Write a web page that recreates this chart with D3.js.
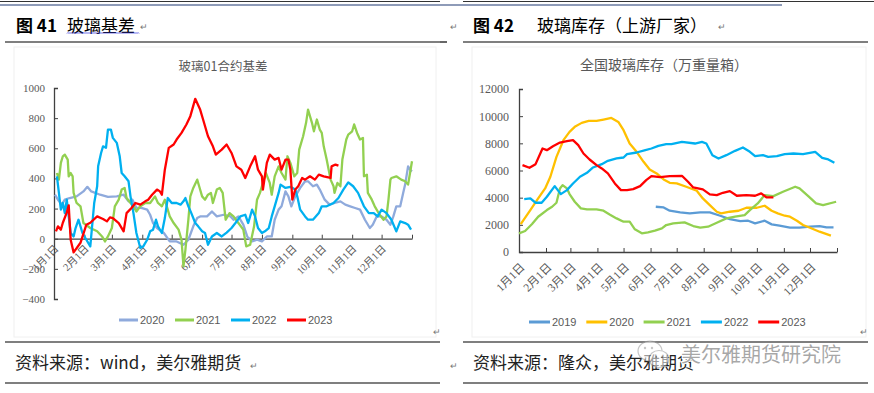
<!DOCTYPE html>
<html>
<head>
<meta charset="utf-8">
<script src="https://cdn.jsdelivr.net/npm/d3@7"></script>
<style>
  body { margin: 0; background: #fff; }
  svg { display: block; }
</style>
</head>
<body>
<div id="page"></div>
<script>
// shared month axis (day of year)
const monthDays = [0, 31, 59, 90, 120, 151, 181, 212, 243, 273, 304, 334, 365];
const monthLabels = ["1月1日", "2月1日", "3月1日", "4月1日", "5月1日", "6月1日",
  "7月1日", "8月1日", "9月1日", "10月1日", "11月1日", "12月1日"];

// ---- 图41 玻璃01合约基差 ----
const basisTicks = [-400, -200, 0, 200, 400, 600, 800, 1000];
const basisYears = ["2020", "2021", "2022", "2023"];
const basisColors = ["#8faadc", "#92d050", "#00b0f0", "#ff0000"];

const basis2020 = [[1,292],[4,259],[8,226],[11,259],[16,270],[23,281],[30,314],[34,344],[38,314],[47,292],
  [55,277],[64,281],[71,292],[76,248],[80,259],[84,204],[89,204],[95,193],[98,159],[101,104],[105,71],
  [112,38],[118,-18],[125,-18],[132,-40],[137,-7],[142,82],[146,137],[149,148],[156,148],[161,181],
  [166,148],[173,159],[180,148],[183,126],[188,148],[193,93],[197,15],[202,-18],[207,-7],[212,-18],
  [217,15],[222,15],[225,126],[229,193],[232,215],[236,314],[239,281],[242,215],[246,281],[251,337],
  [256,381],[259,381],[264,348],[268,359],[271,326],[276,259],[281,226],[286,237],[292,248],[297,226],
  [302,215],[307,204],[312,193],[317,126],[322,71],[325,93],[329,148],[334,148],[339,126],[343,93],
  [346,148],[349,215],[353,215],[356,304],[358,359],[361,480],[363,458],[365,447]];

const basis2021 = [[3,436],[5,392],[7,503],[9,547],[11,558],[14,525],[15,414],[17,436],[19,414],[20,304],
  [23,237],[27,215],[30,104],[37,71],[44,49],[49,15],[52,-18],[55,15],[59,71],[62,215],[66,259],[69,326],
  [72,337],[74,270],[78,237],[81,215],[84,181],[88,215],[93,237],[98,237],[103,281],[106,237],[110,215],
  [113,259],[115,215],[118,148],[122,104],[127,60],[130,-7],[132,-184],[134,-73],[137,126],[139,281],
  [142,337],[146,392],[148,348],[151,281],[154,259],[157,292],[160,304],[162,237],[166,326],[169,337],
  [172,304],[175,126],[179,170],[183,148],[188,104],[193,60],[196,-51],[200,-40],[204,82],[207,259],
  [210,304],[213,370],[216,436],[220,370],[222,292],[225,414],[229,480],[232,436],[236,392],[238,547],
  [241,503],[245,414],[248,436],[250,591],[254,680],[257,769],[259,857],[263,769],[265,713],[268,791],
  [271,724],[273,702],[275,613],[278,525],[282,392],[285,348],[286,304],[289,370],[292,348],[294,525],
  [298,658],[300,691],[304,713],[306,758],[309,702],[312,658],[315,669],[316,414],[319,425],[320,304],
  [324,259],[327,215],[332,159],[336,126],[339,148],[341,259],[343,392],[344,403],[349,414],[354,392],
  [358,381],[361,359],[363,436],[365,514]];

const basis2022 = [[3,414],[5,304],[7,193],[9,237],[11,170],[13,259],[15,148],[17,38],[20,15],[22,71],
  [25,126],[27,82],[29,38],[33,-7],[37,-51],[41,237],[44,348],[45,480],[48,569],[50,613],[53,603],
  [55,724],[58,724],[60,669],[64,636],[67,547],[69,436],[72,414],[76,381],[78,281],[81,170],[84,38],
  [88,-62],[91,-51],[95,-7],[98,49],[101,60],[104,126],[106,82],[110,38],[113,137],[116,270],[120,237],
  [125,237],[129,226],[132,248],[134,270],[137,215],[140,170],[144,104],[147,82],[151,49],[154,38],
  [157,-40],[161,15],[166,38],[171,15],[176,40],[181,71],[185,104],[190,148],[195,159],[198,104],
  [202,193],[205,148],[208,71],[212,38],[215,49],[219,71],[222,148],[225,215],[229,304],[231,359],
  [236,337],[241,344],[246,326],[248,281],[251,193],[256,148],[259,126],[264,126],[270,170],[273,215],
  [278,215],[285,237],[290,270],[295,326],[300,374],[305,348],[310,304],[316,215],[321,170],[326,170],
  [330,148],[334,193],[339,170],[344,126],[349,49],[353,115],[358,104],[361,93],[364,60]];

const basis2023 = [[2,49],[4,82],[7,60],[9,106],[13,173],[15,221],[17,-7],[20,-91],[27,-27],[33,93],
  [37,106],[44,148],[50,131],[54,115],[57,142],[60,137],[66,104],[71,49],[74,170],[79,204],[83,237],
  [88,226],[93,248],[96,259],[100,292],[105,326],[108,314],[110,292],[113,458],[117,603],[122,625],
  [125,658],[130,702],[135,758],[139,813],[144,928],[149,857],[152,791],[157,680],[162,613],[165,558],
  [171,591],[176,625],[181,569],[186,480],[191,458],[195,403],[200,480],[205,547],[208,458],[212,414],
  [213,326],[217,503],[220,558],[225,525],[229,536],[232,458],[236,525],[239,525],[241,458],[243,259],
  [246,326],[249,348],[253,403],[256,392],[261,414],[266,392],[270,425],[275,414],[282,403],[283,480],
  [287,492],[290,485]];

// ---- 图42 全国玻璃库存（万重量箱）----
const stockTicks = [0, 2000, 4000, 6000, 8000, 10000, 12000];
const stockYears = ["2019", "2020", "2021", "2022", "2023"];
const stockColors = ["#5b9bd5", "#ffc000", "#92d050", "#00b0f0", "#ff0000"];

const stock2019 = [[157,3332],[166,3283],[173,3038],[185,2915],[196,2842],[208,2915],[219,2915],
  [231,2670],[242,2426],[254,2279],[263,2303],[271,2107],[282,2303],[290,2034],[299,1935],[311,1788],
  [322,1788],[334,1862],[345,1911],[353,1813],[361,1813]];

const stock2020 = [[2,2058],[13,3087],[22,3945],[30,4680],[36,5537],[43,7007],[51,8232],[58,8845],
  [64,9212],[72,9506],[80,9653],[89,9653],[97,9751],[106,9873],[114,9579],[120,8967],[127,7987],
  [135,7374],[143,6640],[150,6077],[158,5782],[166,5340],[173,5095],[181,5046],[192,4802],[204,4508],
  [211,3945],[219,3455],[227,2964],[232,2842],[242,2964],[252,3038],[261,3258],[273,3258],[282,3405],
  [290,3038],[297,2842],[305,2670],[311,2597],[319,2303],[326,1985],[334,1788],[345,1494],[358,1200]];

const stock2021 = [[0,1372],[7,1543],[15,2058],[22,2597],[32,3087],[38,3332],[43,3626],[47,4680],
  [50,4925],[55,4680],[58,4263],[64,3700],[71,3210],[78,3136],[89,3136],[97,3038],[104,2768],[112,2475],
  [120,2229],[127,2229],[133,1666],[141,1372],[148,1445],[156,1568],[164,1739],[169,1985],[177,2107],
  [190,2181],[200,1911],[208,1788],[217,1862],[227,2156],[238,2475],[248,2597],[259,2720],[265,3087],
  [274,3577],[282,4190],[292,4116],[303,4435],[317,4802],[322,4680],[332,4116],[341,3577],[349,3455],
  [364,3700]];

const stock2022 = [[6,3896],[13,3945],[19,3626],[26,3626],[32,4067],[41,4851],[48,4263],[55,4557],
  [62,5046],[70,5537],[78,5831],[85,6223],[95,6468],[102,6713],[112,6885],[120,6958],[124,7203],
  [135,7325],[145,7497],[152,7619],[160,7815],[169,7938],[175,7938],[187,8109],[202,7987],[210,8109],
  [215,7987],[222,7129],[229,6885],[238,7129],[248,7448],[257,7693],[265,7374],[271,7056],[280,7129],
  [286,7007],[296,7056],[305,7203],[315,7252],[326,7203],[340,7374],[348,6934],[355,6811],[362,6566]];

const stock2023 = [[4,6395],[12,6199],[19,6468],[27,7619],[32,7497],[39,7791],[47,8060],[55,8159],
  [62,8232],[68,7865],[74,7252],[81,6811],[89,6395],[95,6150],[102,5782],[110,5046],[117,4557],
  [124,4557],[131,4630],[139,4851],[146,5292],[152,5586],[162,5512],[173,5586],[187,5611],[194,5170],
  [200,4753],[211,4606],[219,4239],[227,4190],[234,4361],[242,4484],[250,4141],[261,4190],[271,4141],
  [278,4312],[284,4018],[292,4018]];

const svg = d3.select("#page").append("svg")
  .attr("width", 874)
  .attr("height", 393);

const cjk = "'Noto Sans CJK SC', sans-serif";
const numFont = "'Liberation Serif', 'Times New Roman', 'Noto Sans CJK SC', serif";
const grey = "#595959";

// page rules
function rule(x1, x2, y, color, w) {
  svg.append("line").attr("x1", x1).attr("x2", x2).attr("y1", y).attr("y2", y)
    .attr("stroke", color).attr("stroke-width", w);
}
rule(0, 440, 1.5, "#333", 1);
rule(463, 874, 1.5, "#333", 1);
rule(0, 782, 5, "#8e9bb8", 2);
[42, 342, 383].forEach(y => { rule(5, 440, y, "#000", 1.2); rule(463, 868, y, "#000", 1.2); });
rule(440, 447, 42, "#000", 1.2);

// chart frames (very faint)
svg.append("rect").attr("x", 14).attr("y", 47).attr("width", 422).attr("height", 290)
  .attr("fill", "none").attr("stroke", "#f0f0f0");
svg.append("rect").attr("x", 472).attr("y", 47).attr("width", 394).attr("height", 290)
  .attr("fill", "none").attr("stroke", "#f0f0f0");

function ret(x, y) {
  svg.append("text").attr("x", x).attr("y", y).text("↵")
    .attr("font-family", cjk).attr("font-size", 9).attr("fill", "#777");
}

// headings
const h1 = svg.append("text").attr("x", 16).attr("y", 32).attr("font-family", cjk).attr("fill", "#000");
h1.append("tspan").attr("font-size", 17).attr("font-weight", "bold").text("图 41");
h1.append("tspan").attr("x", 67).attr("font-size", 17).text("玻璃基差");
// wavy spell-check underline
let wave = "M67,33.5";
for (let x = 67; x < 139; x += 2) wave += ` L${x + 1},${(x / 2) % 2 === 1 ? 35 : 32.5} L${x + 2},33.5`;
svg.append("path").attr("d", wave).attr("fill", "none").attr("stroke", "#3a3ae0").attr("stroke-width", 0.8);
ret(140, 30);

ret(450, 30);
const h2 = svg.append("text").attr("x", 473).attr("y", 32).attr("font-family", cjk).attr("fill", "#000");
h2.append("tspan").attr("font-size", 17).attr("font-weight", "bold").text("图 42");
h2.append("tspan").attr("x", 537).attr("font-size", 17).text("玻璃库存（上游厂家）");
ret(718, 30);

// sources
svg.append("text").attr("x", 15).attr("y", 369).attr("font-family", cjk).attr("font-size", 17)
  .attr("fill", "#222").text("资料来源：wind，美尔雅期货");
ret(250, 369);
ret(450, 369);
svg.append("text").attr("x", 473).attr("y", 369).attr("font-family", cjk).attr("font-size", 17)
  .attr("fill", "#222").text("资料来源：隆众，美尔雅期货");
ret(433, 335);
ret(860, 335);

function drawChart(cfg) {
  const g = svg.append("g");
  const x = d3.scaleLinear().domain([0, 365]).range(cfg.xRange);
  const y = d3.scaleLinear().domain(cfg.yDomain).range(cfg.yRange);

  g.append("text").attr("x", cfg.titleX).attr("y", cfg.titleY).attr("text-anchor", "middle")
    .attr("font-family", cjk).attr("font-size", cfg.titleSize).attr("fill", grey).text(cfg.title);

  const yAxis = g.append("g").attr("transform", `translate(${cfg.xRange[0]},0)`)
    .call(d3.axisLeft(y).tickValues(cfg.yTicks).tickSize(-4).tickPadding(cfg.yPad)
      .tickFormat(d3.format("d")));
  yAxis.select(".domain").attr("stroke", "#404040").attr("stroke-width", 1.3);
  yAxis.selectAll(".tick line").attr("stroke", "#404040");
  yAxis.selectAll("text").style("font-family", numFont).style("font-size", cfg.tickSize + "px")
    .attr("fill", grey);

  const xAxis = g.append("g").attr("transform", `translate(0,${y(0)})`)
    .call(d3.axisBottom(x).tickValues(monthDays).tickSize(-4).tickSizeOuter(0)
      .tickFormat((d, i) => monthLabels[i] || ""));
  xAxis.select(".domain").attr("stroke", "#404040").attr("stroke-width", 1.3);
  xAxis.selectAll(".tick line").attr("stroke", "#404040");
  xAxis.selectAll("text")
    .attr("x", 0).attr("y", 0).attr("dy", "0.35em")
    .attr("text-anchor", "end")
    .attr("transform", `translate(${cfg.labelDx},${cfg.labelDy}) rotate(-45)`)
    .style("font-family", numFont).style("font-size", cfg.labelSize + "px").attr("fill", grey);

  const line = d3.line().x(d => x(d[0])).y(d => y(d[1]));
  cfg.series.forEach((s, i) => {
    g.append("path").datum(s).attr("d", line)
      .attr("fill", "none").attr("stroke", cfg.colors[i])
      .attr("stroke-width", cfg.lineWidth).attr("stroke-linejoin", "round");
  });

  // legend
  cfg.names.forEach((n, i) => {
    const lx = cfg.legendX + i * cfg.legendStep;
    g.append("line").attr("x1", lx).attr("x2", lx + cfg.legendLine)
      .attr("y1", cfg.legendY).attr("y2", cfg.legendY)
      .attr("stroke", cfg.colors[i]).attr("stroke-width", 3);
    g.append("text").attr("x", lx + cfg.legendLine + 2).attr("y", cfg.legendY + 4)
      .attr("font-family", "'Liberation Sans', Arial, sans-serif").attr("font-size", 11)
      .attr("fill", grey).text(n);
  });
}

drawChart({
  title: "玻璃01合约基差", titleX: 223, titleY: 71, titleSize: 12.5,
  xRange: [54, 412], yDomain: [-400, 1000], yRange: [299, 88], yTicks: basisTicks,
  yPad: 9, tickSize: 11, labelSize: 10.5, labelDx: 2, labelDy: 8,
  series: [basis2020, basis2021, basis2022, basis2023], colors: basisColors, names: basisYears,
  lineWidth: 2.3, legendX: 119, legendStep: 56, legendLine: 19, legendY: 320
});

drawChart({
  title: "全国玻璃库存（万重量箱）", titleX: 664, titleY: 70, titleSize: 14,
  xRange: [519, 837], yDomain: [0, 12000], yRange: [252, 89], yTicks: stockTicks,
  yPad: 10, tickSize: 12, labelSize: 11.5, labelDx: 3, labelDy: 13,
  series: [stock2019, stock2020, stock2021, stock2022, stock2023], colors: stockColors, names: stockYears,
  lineWidth: 2.3, legendX: 529, legendStep: 57.3, legendLine: 21, legendY: 322
});

// watermark
const wm = svg.append("g").attr("opacity", 0.55);
wm.append("ellipse").attr("cx", 650).attr("cy", 351).attr("rx", 12).attr("ry", 10)
  .attr("fill", "#fff").attr("stroke", "#999").attr("stroke-width", 1.2);
wm.append("ellipse").attr("cx", 659).attr("cy", 359).attr("rx", 10).attr("ry", 8.5)
  .attr("fill", "#fff").attr("stroke", "#999").attr("stroke-width", 1.2);
[[645, 348], [652, 348], [656, 357], [662, 357]].forEach(p =>
  wm.append("circle").attr("cx", p[0]).attr("cy", p[1]).attr("r", 1.2).attr("fill", "#999"));
svg.append("text").attr("x", 681).attr("y", 362).attr("font-family", cjk).attr("font-size", 20)
  .attr("fill", "#8a8a8a").attr("fill-opacity", 0.75)
  .attr("stroke", "#fff").attr("stroke-width", 2).attr("paint-order", "stroke")
  .text("美尔雅期货研究院");
</script>
</body>
</html>
